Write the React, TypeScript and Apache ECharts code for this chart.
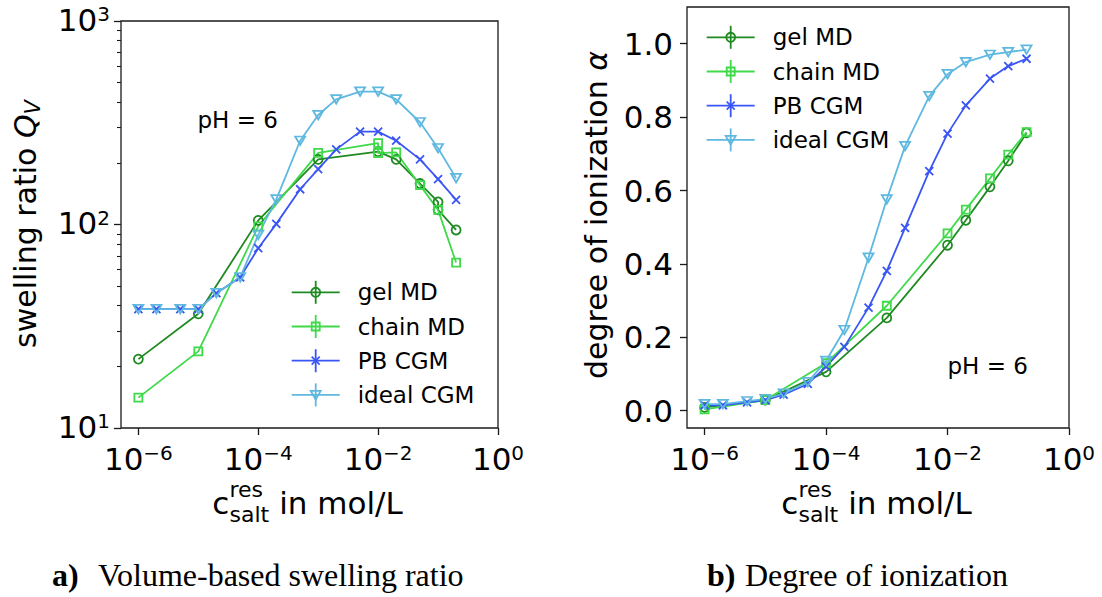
import React, { useEffect, useRef } from 'react';
import * as echarts from 'echarts';

// ---------------- data ----------------
const saltConc = [1e-6, 2e-6, 5e-6, 1e-5, 2e-5, 5e-5, 1e-4, 2e-4, 5e-4, 1e-3, 2e-3, 5e-3, 1e-2, 2e-2, 5e-2, 0.1, 0.2];
const mdConc = [1e-6, 1e-5, 1e-4, 1e-3, 1e-2, 2e-2, 5e-2, 0.1, 0.2];

// panel a) swelling ratio Q_V
const gelSwellConc = [1e-6, 1e-5, 1e-4, 1e-3, 1e-2, 2e-2, 5e-2, 0.1, 0.1, 0.2];
const gelSwell = [21.8, 36.4, 104.7, 209, 228, 209, 159, 129, 118, 94];
const chainSwellConc = [1e-6, 1e-5, 1e-4, 1e-3, 1e-2, 1e-2, 2e-2, 5e-2, 0.1, 0.2];
const chainSwell = [14.1, 23.8, 98, 225, 251, 224, 226, 156, 118, 65];
const pbSwell = [38.4, 38.4, 38.4, 38.4, 46, 55, 76.5, 100.7, 149, 187, 234, 286, 286, 258, 209, 167, 132];
const idealSwell = [38.4, 38.4, 38.4, 38.4, 46, 55, 89, 133, 258, 345, 412, 450, 450, 412, 318, 237, 169];

// panel b) degree of ionization
const gelAlpha = [0.009, 0.029, 0.106, 0.253, 0.451, 0.519, 0.61, 0.681, 0.757];
const chainAlpha = [0.004, 0.029, 0.13, 0.286, 0.483, 0.548, 0.633, 0.698, 0.759];
const pbAlpha = [0.015, 0.015, 0.023, 0.029, 0.044, 0.073, 0.12, 0.174, 0.281, 0.381, 0.498, 0.653, 0.755, 0.832, 0.905, 0.939, 0.959];
const idealAlpha = [0.018, 0.018, 0.026, 0.032, 0.047, 0.078, 0.136, 0.22, 0.417, 0.576, 0.721, 0.857, 0.917, 0.95, 0.97, 0.977, 0.984];

// ticks
const xTickExps = [-6, -4, -2, 0];
const swellTickExps = [1, 2, 3];
const swellMinorTicks = [1, 2].flatMap((n) => [2, 3, 4, 5, 6, 7, 8, 9].map((k) => Math.log10(k * Math.pow(10, n))));
const alphaTicks = [0, 0.2, 0.4, 0.6, 0.8, 1.0];

const seriesNames = ['gel MD', 'chain MD', 'PB CGM', 'ideal CGM'];
const seriesColors = ['#1f8a22', '#3fd94a', '#3a55f5', '#5fb8df'];

// ---------------- styling ----------------
const FF = 'DejaVu Sans';
const SERIF = 'Liberation Serif';
const AX = '#1a1a1a';

const supTxt = (e: number) => (e < 0 ? '\u2212' + Math.abs(e) : String(e));
const powLabel = (v: number) => `{b|10}{s|${supTxt(Math.round(v))}}`;
const tickRich = {
  b: { fontSize: 31, lineHeight: 34, fontFamily: FF, color: '#000', verticalAlign: 'top' },
  s: { fontSize: 20, lineHeight: 17, fontFamily: FF, color: '#000', verticalAlign: 'top' },
};

const XPATH = 'path://M0,0L10,10M10,0L0,10';
const TRIPATH = 'path://M0,0L10,0L5,8.66Z';
const symbols = ['circle', 'rect', XPATH, TRIPATH];
const symbolSizes: any[] = [9, 8, 8, [10, 8.5]];

function mkSeries(idx: number, xs: number[], ys: number[], grid: number, logY: boolean) {
  const color = seriesColors[idx];
  return {
    type: 'line',
    name: seriesNames[idx],
    xAxisIndex: grid,
    yAxisIndex: grid === 0 ? 0 : 2,
    data: xs.map((x, i) => [Math.log10(x), logY ? Math.log10(ys[i]) : ys[i]]),
    symbol: symbols[idx],
    symbolSize: symbolSizes[idx],
    showSymbol: true,
    silent: true,
    lineStyle: { color, width: 1.8 },
    itemStyle: { color: 'rgba(255,255,255,0)', borderColor: color, borderWidth: 1.8 },
    emphasis: { disabled: true },
  };
}

function xAxisOf(grid: number) {
  return {
    type: 'value',
    gridIndex: grid,
    position: 'bottom',
    min: -6.29,
    max: 0,
    axisLine: { show: false, onZero: false },
    splitLine: { show: false },
    axisTick: { show: true, customValues: xTickExps, length: 7, lineStyle: { color: AX, width: 1.3 } },
    axisLabel: { customValues: xTickExps, formatter: (v: number) => powLabel(v), margin: 15, rich: tickRich },
  };
}

function legendGroup(x0: number, y0: number) {
  const children: any[] = [];
  seriesNames.forEach((name, i) => {
    const y = y0 + i * 34.2;
    const c = seriesColors[i];
    const mx = x0 + 24;
    const st = { stroke: c, lineWidth: 1.8, fill: 'none' };
    children.push({ type: 'line', shape: { x1: x0, y1: y, x2: x0 + 48, y2: y }, style: { stroke: c, lineWidth: 1.8 } });
    children.push({ type: 'line', shape: { x1: mx, y1: y - 11.5, x2: mx, y2: y + 11.5 }, style: { stroke: c, lineWidth: 1.8 } });
    if (i === 0) children.push({ type: 'circle', shape: { cx: mx, cy: y, r: 4.5 }, style: st });
    if (i === 1) children.push({ type: 'rect', shape: { x: mx - 4, y: y - 4, width: 8, height: 8 }, style: st });
    if (i === 2) {
      children.push({ type: 'line', shape: { x1: mx - 4, y1: y - 4, x2: mx + 4, y2: y + 4 }, style: st });
      children.push({ type: 'line', shape: { x1: mx - 4, y1: y + 4, x2: mx + 4, y2: y - 4 }, style: st });
    }
    if (i === 3) children.push({ type: 'polygon', shape: { points: [[mx - 5, y - 4], [mx + 5, y - 4], [mx, y + 4.5]] }, style: st });
    children.push({
      type: 'text', x: x0 + 66, y,
      style: { text: name, fontSize: 23, fontFamily: FF, fill: '#000', textAlign: 'left', verticalAlign: 'middle' },
    });
  });
  return { type: 'group', children };
}

function xLabelGroup(cLeft: number) {
  const base = 513.6;
  const t = (text: string, x: number, baseline: number, fs: number) => ({
    type: 'text', x, y: baseline - 0.346 * fs,
    style: { text, fontSize: fs, fontFamily: FF, fill: '#000', textAlign: 'left', verticalAlign: 'middle' },
  });
  return {
    type: 'group',
    children: [
      t('c', cLeft, base, 31),
      t('res', cLeft + 17.2, 496.8, 22),
      t('salt', cLeft + 17.2, 521.8, 22),
      t(' in mol/L', cLeft + 17.2 + 39.8, base, 31),
    ],
  };
}

const yNameRich = {
  a: { fontSize: 30, lineHeight: 36, fontFamily: FF, color: '#000' },
  q: { fontSize: 30, lineHeight: 36, fontFamily: FF, fontStyle: 'italic', color: '#000' },
  v: { fontSize: 21, lineHeight: 18, fontFamily: FF, fontStyle: 'italic', color: '#000', verticalAlign: 'bottom' },
};

const captionY = 586 - 0.3375 * 32;
const capText = (text: string, x: number, bold: boolean) => ({
  type: 'text', x, y: captionY,
  style: {
    text, fontSize: 32, fontWeight: bold ? 'bold' : 'normal', fontFamily: SERIF, fill: '#000',
    textAlign: 'left', verticalAlign: 'middle',
  },
});

const option: any = {
  animation: false,
  backgroundColor: '#fff',
  grid: [
    { left: 121, top: 21, width: 377, height: 407, show: true, borderColor: AX, borderWidth: 1.3, backgroundColor: 'transparent' },
    { left: 687, top: 7, width: 382, height: 421, show: true, borderColor: AX, borderWidth: 1.3, backgroundColor: 'transparent' },
  ],
  xAxis: [xAxisOf(0), xAxisOf(1)],
  yAxis: [
    {
      type: 'value', gridIndex: 0, position: 'left', min: 1, max: 3,
      axisLine: { show: false, onZero: false }, splitLine: { show: false },
      axisTick: { customValues: swellTickExps, length: 7, lineStyle: { color: AX, width: 1.3 } },
      axisLabel: { customValues: swellTickExps, formatter: (v: number) => powLabel(v), margin: 11, rich: tickRich },
    },
    {
      type: 'value', gridIndex: 0, position: 'left', min: 1, max: 3,
      axisLine: { show: false, onZero: false }, splitLine: { show: false },
      axisTick: { customValues: swellMinorTicks, length: 4, lineStyle: { color: AX, width: 1.1 } },
      axisLabel: { show: false },
    },
    {
      type: 'value', gridIndex: 1, position: 'left', min: -0.047, max: 1.1,
      axisLine: { show: false, onZero: false }, splitLine: { show: false },
      axisTick: { customValues: alphaTicks, length: 7, lineStyle: { color: AX, width: 1.3 } },
      axisLabel: {
        customValues: alphaTicks, formatter: (v: number) => v.toFixed(1), margin: 14,
        fontSize: 31, fontFamily: FF, color: '#000',
      },
    },
  ],
  series: [
    mkSeries(0, gelSwellConc, gelSwell, 0, true),
    mkSeries(1, chainSwellConc, chainSwell, 0, true),
    mkSeries(2, saltConc, pbSwell, 0, true),
    mkSeries(3, saltConc, idealSwell, 0, true),
    mkSeries(0, mdConc, gelAlpha, 1, false),
    mkSeries(1, mdConc, chainAlpha, 1, false),
    mkSeries(2, saltConc, pbAlpha, 1, false),
    mkSeries(3, saltConc, idealAlpha, 1, false),
  ],
  graphic: [
    legendGroup(291.7, 292.3),
    legendGroup(706.7, 37.3),
    xLabelGroup(212.3),
    xLabelGroup(781.3),
    {
      type: 'text', x: 25.6, y: 224, rotation: Math.PI / 2,
      style: { text: '{a|swelling ratio }{q|Q}{v|V}', rich: yNameRich, textAlign: 'center', verticalAlign: 'middle' },
    },
    {
      type: 'text', x: 596.6, y: 215, rotation: Math.PI / 2,
      style: { text: '{a|degree of ionization }{q|\u03b1}', rich: yNameRich, textAlign: 'center', verticalAlign: 'middle' },
    },
    {
      type: 'text', x: 197.5, y: 128 - 0.346 * 23,
      style: { text: 'pH = 6', fontSize: 23, fontFamily: FF, fill: '#000', textAlign: 'left', verticalAlign: 'middle' },
    },
    {
      type: 'text', x: 947.5, y: 374 - 0.346 * 23,
      style: { text: 'pH = 6', fontSize: 23, fontFamily: FF, fill: '#000', textAlign: 'left', verticalAlign: 'middle' },
    },
    capText('a)', 52, true),
    capText('Volume-based swelling ratio', 98, false),
    capText('b)', 707, true),
    capText('Degree of ionization', 745, false),
  ],
};

export default function App() {
  const ref = useRef<HTMLDivElement>(null);
  useEffect(() => {
    if (!ref.current) return;
    const chart = echarts.init(ref.current, null, { renderer: 'svg' });
    chart.setOption(option);
    return () => {
      chart.dispose();
    };
  }, []);
  return (
    <div
      ref={ref}
      style={{ position: 'fixed', left: 0, top: 0, width: 1102, height: 597, background: '#fff' }}
    />
  );
}
